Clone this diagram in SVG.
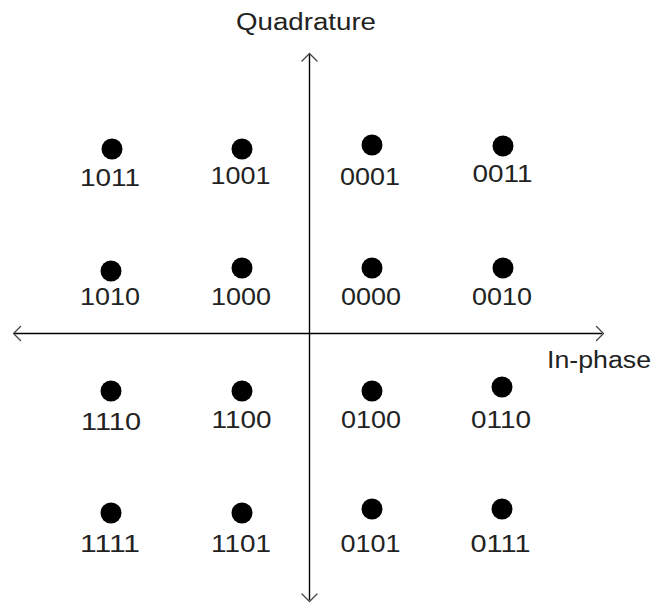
<svg xmlns="http://www.w3.org/2000/svg" width="653" height="603" viewBox="0 0 653 603">
  <style>
    .axis { stroke: #000; stroke-width: 1.4; fill: none; }
    .head { stroke: #444; stroke-width: 1.3; fill: none; stroke-linecap: round; stroke-linejoin: round; }
    .dot { fill: #000; }
    .lbl { font-family: "Liberation Sans", Arial, sans-serif; font-size: 24px; fill: #222; text-anchor: middle; }
    .ax { font-family: "Liberation Sans", Arial, sans-serif; font-size: 23px; fill: #222; }
  </style>

  <!-- I/Q axes -->
  <g id="axes">
    <line class="axis" x1="309.5" y1="54" x2="309.5" y2="600"/>
    <line class="axis" x1="14" y1="333.5" x2="602" y2="333.5"/>
    <polyline class="head" points="302,61 309.5,53.5 317,61"/>
    <polyline class="head" points="302,594 309.5,601.5 317,594"/>
    <polyline class="head" points="20.5,326.5 13.5,333.5 20.5,340.5"/>
    <polyline class="head" points="596.5,326.5 603.5,333.5 596.5,340.5"/>
    <text class="ax" x="236" y="30" textLength="140" lengthAdjust="spacingAndGlyphs">Quadrature</text>
    <text class="ax" x="547" y="368" textLength="104" lengthAdjust="spacingAndGlyphs">In-phase</text>
  </g>

  <!-- constellation points, row 1 -->
  <g id="p1011"><circle class="dot" cx="112" cy="149" r="10.5"/><text class="lbl" x="110" y="186" textLength="60" lengthAdjust="spacingAndGlyphs">1011</text></g>
  <g id="p1001"><circle class="dot" cx="242" cy="149" r="10.5"/><text class="lbl" x="240.5" y="184" textLength="60" lengthAdjust="spacingAndGlyphs">1001</text></g>
  <g id="p0001"><circle class="dot" cx="372" cy="145" r="10.5"/><text class="lbl" x="370" y="185" textLength="60" lengthAdjust="spacingAndGlyphs">0001</text></g>
  <g id="p0011"><circle class="dot" cx="503" cy="146" r="10.5"/><text class="lbl" x="502.5" y="182" textLength="60" lengthAdjust="spacingAndGlyphs">0011</text></g>

  <!-- row 2 -->
  <g id="p1010"><circle class="dot" cx="111" cy="271" r="10.5"/><text class="lbl" x="110" y="305" textLength="60" lengthAdjust="spacingAndGlyphs">1010</text></g>
  <g id="p1000"><circle class="dot" cx="242" cy="268" r="10.5"/><text class="lbl" x="241" y="305" textLength="60" lengthAdjust="spacingAndGlyphs">1000</text></g>
  <g id="p0000"><circle class="dot" cx="372" cy="268" r="10.5"/><text class="lbl" x="371" y="305" textLength="60" lengthAdjust="spacingAndGlyphs">0000</text></g>
  <g id="p0010"><circle class="dot" cx="503" cy="268" r="10.5"/><text class="lbl" x="502" y="305" textLength="60" lengthAdjust="spacingAndGlyphs">0010</text></g>

  <!-- row 3 -->
  <g id="p1110"><circle class="dot" cx="111" cy="391" r="10.5"/><text class="lbl" x="111" y="430" textLength="60" lengthAdjust="spacingAndGlyphs">1110</text></g>
  <g id="p1100"><circle class="dot" cx="242" cy="391" r="10.5"/><text class="lbl" x="241.5" y="427.5" textLength="60" lengthAdjust="spacingAndGlyphs">1100</text></g>
  <g id="p0100"><circle class="dot" cx="372" cy="391" r="10.5"/><text class="lbl" x="371" y="427.5" textLength="60" lengthAdjust="spacingAndGlyphs">0100</text></g>
  <g id="p0110"><circle class="dot" cx="502" cy="387" r="10.5"/><text class="lbl" x="501" y="427.5" textLength="60" lengthAdjust="spacingAndGlyphs">0110</text></g>

  <!-- row 4 -->
  <g id="p1111"><circle class="dot" cx="111" cy="513" r="10.5"/><text class="lbl" x="110" y="551.5" textLength="60" lengthAdjust="spacingAndGlyphs">1111</text></g>
  <g id="p1101"><circle class="dot" cx="242" cy="513" r="10.5"/><text class="lbl" x="241" y="551.5" textLength="60" lengthAdjust="spacingAndGlyphs">1101</text></g>
  <g id="p0101"><circle class="dot" cx="372" cy="509" r="10.5"/><text class="lbl" x="370.5" y="551.5" textLength="60" lengthAdjust="spacingAndGlyphs">0101</text></g>
  <g id="p0111"><circle class="dot" cx="502" cy="509" r="10.5"/><text class="lbl" x="500.5" y="551.5" textLength="60" lengthAdjust="spacingAndGlyphs">0111</text></g>
</svg>
